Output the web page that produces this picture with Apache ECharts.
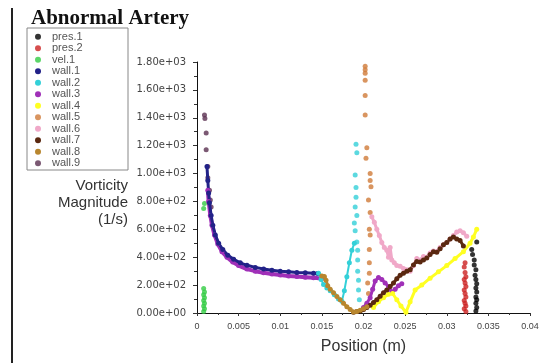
<!DOCTYPE html>
<html>
<head>
<meta charset="utf-8">
<script src="https://cdn.jsdelivr.net/npm/echarts@6/dist/echarts.min.js"></script>
<style>
  html, body { margin: 0; padding: 0; background: #fff; }
  #chart { width: 545px; height: 363px; }
</style>
</head>
<body>
<div id="chart"></div>
<script>
// legend order
const seriesNames = ['pres.1', 'pres.2', 'vel.1', 'wall.1', 'wall.2', 'wall.3',
  'wall.4', 'wall.5', 'wall.6', 'wall.7', 'wall.8', 'wall.9'];

const xTicks = [0, 0.005, 0.01, 0.015, 0.02, 0.025, 0.03, 0.035, 0.04];

// [position (m), vorticity magnitude (1/s)]
const pres1 = [[0.0335,15],[0.0336,40],[0.0335,70],[0.0336,95],[0.0335,115],[0.0336,150],
  [0.0335,180],[0.0336,210],[0.0335,240],[0.0334,270],[0.0335,310],[0.0333,345],
  [0.0333,380],[0.0331,420],[0.0330,455],[0.0336,510]];
const pres2 = [[0.0323,10],[0.0321,30],[0.0323,50],[0.0322,70],[0.0321,90],[0.0323,115],
  [0.0322,140],[0.0321,165],[0.0323,190],[0.0322,215],[0.0321,240],[0.0323,260],
  [0.0322,290],[0.0321,330],[0.0322,360]];
const vel1 = [[0.0008,10],[0.0009,30],[0.0008,50],[0.0009,70],[0.0008,90],[0.0009,110],
  [0.0008,130],[0.0009,150],[0.0008,175],[0.0008,750],[0.0009,785]];
const wall1 = [[0.0012,1050],[0.0013,950],[0.0014,860],[0.0015,790],[0.0017,700],[0.0019,630],
  [0.0022,560],[0.0026,500],[0.0031,455],[0.0037,415],[0.0044,385],[0.0052,360],
  [0.006,342],[0.007,327],[0.008,315],[0.009,307],[0.010,300],[0.011,295],
  [0.012,291],[0.013,288],[0.014,285],[0.0145,283]];
const wall2 = [[0.0146,285],[0.0149,240],[0.0152,205],[0.0156,180],[0.016,160],[0.0165,130],
  [0.017,100],[0.0174,85],[0.0177,160],[0.018,260],[0.0183,360],[0.0186,450],[0.0189,500]];
const wall2Dots = [[0.0191,1210],[0.0192,1150],[0.0190,990],[0.0191,900],[0.0191,830],
  [0.0190,760],[0.0192,700],[0.0189,645],[0.0190,590],[0.0192,510],[0.0193,450],
  [0.0193,380],[0.0193,300],[0.0194,235],[0.0194,165],[0.0195,95]];
const wall3 = [[0.0013,880],[0.0014,800],[0.0016,700],[0.0018,630],[0.0021,560],[0.0025,495],
  [0.003,440],[0.0036,400],[0.0043,365],[0.005,340],[0.006,315],[0.007,300],
  [0.008,288],[0.009,279],[0.010,272],[0.011,266],[0.012,261],[0.013,257],
  [0.014,253],[0.015,248]];
const wall3Right = [[0.0200,40],[0.0204,70],[0.0208,110],[0.0211,170],[0.0214,230],[0.0218,255],
  [0.0222,240],[0.0226,215],[0.023,190],[0.0234,150],[0.0238,170],[0.0242,195],[0.0246,210]];
const wall4 = [[0.0212,40],[0.0218,80],[0.0224,110],[0.023,135],[0.0235,140],[0.024,95],
  [0.0245,50],[0.0251,5],[0.0256,80],[0.0262,165],[0.027,200],[0.028,250],[0.029,295],
  [0.030,340],[0.031,390],[0.032,440],[0.0328,500],[0.0332,545],[0.0336,600]];
const wall5 = [[0.0202,1770],[0.0202,1745],[0.0202,1720],[0.0202,1670],[0.0202,1560],
  [0.0202,1420],[0.0204,1185],[0.0203,1110],[0.0208,1000],[0.0208,950],[0.0209,905],
  [0.0206,810],[0.0208,720],[0.0207,600],[0.0208,560],[0.0207,455],[0.0207,360],
  [0.0207,285],[0.0205,215],[0.0206,140],[0.0205,60]];
const wall6 = [[0.0210,690],[0.0213,650],[0.0216,600],[0.0219,555],[0.0222,505],[0.0225,470],
  [0.0228,450],[0.023,400],[0.0232,470],[0.0234,380],[0.0237,360],[0.024,340],
  [0.0244,335],[0.0248,320],[0.0252,310],[0.0256,300],[0.026,340],[0.0264,390],
  [0.0268,380],[0.0272,405],[0.0276,400],[0.028,430],[0.0284,445],[0.0288,440],
  [0.0292,470],[0.0296,490],[0.030,505],[0.0304,530],[0.0308,555],[0.0312,580],
  [0.0316,590],[0.032,575],[0.0324,550]];
const wall7 = [[0.0188,5],[0.0192,10],[0.0196,15],[0.020,25],[0.0204,40],[0.0208,55],
  [0.0212,75],[0.0216,95],[0.022,120],[0.0224,145],[0.0228,165],[0.0232,190],
  [0.0236,215],[0.024,245],[0.0244,270],[0.0248,285],[0.0252,300],[0.0256,310],
  [0.026,345],[0.0264,370],[0.0268,365],[0.0272,380],[0.0276,395],[0.028,420],
  [0.0284,440],[0.0288,435],[0.0292,460],[0.0296,490],[0.030,505],[0.0304,530],
  [0.0308,545],[0.0312,530],[0.0316,520],[0.032,480]];
const wall8 = [[0.0150,265],[0.0153,262],[0.0155,235],[0.0157,195],[0.016,170],[0.0164,145],
  [0.0168,118],[0.0172,95],[0.0176,70],[0.018,45],[0.0184,25],[0.0188,8],[0.0192,10],
  [0.0196,20],[0.020,30],[0.0204,45]];
const wall9 = [[0.0009,1420],[0.00095,1395],[0.0011,1290],[0.0011,1170],[0.0013,1050],
  [0.0013,970],[0.0015,880],[0.0016,810],[0.0017,760]];

const colors = {
  'pres.1': '#000000', 'pres.2': '#cc2222', 'vel.1': '#33cc44', 'wall.1': '#222288',
  'wall.2': '#33d0d8', 'wall.3': '#a030b8', 'wall.4': '#ffff22', 'wall.5': '#d07a38',
  'wall.6': '#f0a8c8', 'wall.7': '#5a2810', 'wall.8': '#b8862e', 'wall.9': '#5a3050'
};

function dots(name, data, size) {
  return {
    name: name, type: 'scatter', data: data, symbol: 'circle', symbolSize: size || 5,
    itemStyle: { color: colors[name] }
  };
}
function trail(name, data, width) {
  return {
    name: name, type: 'line', data: data, symbol: 'circle', symbolSize: 5,
    showSymbol: true,
    itemStyle: { color: colors[name] },
    lineStyle: { color: colors[name], width: width || 3 }
  };
}

// y labels look like 1.80e+03
function sci(v) {
  if (v === 0) return '0.00e+00';
  const e = Math.floor(Math.log10(v) + 1e-9);
  const m = v / Math.pow(10, e);
  return m.toFixed(2) + 'e+' + String(e).padStart(2, '0');
}

const chart = echarts.init(document.getElementById('chart'));

chart.setOption({
  animation: false,
  backgroundColor: '#fff',
  title: {
    text: 'Abnormal Artery',
    left: 26, top: 3,
    textStyle: { fontFamily: 'Liberation Serif', fontWeight: 'bold', fontSize: 21, color: '#111' }
  },
  legend: {
    data: seriesNames,
    orient: 'vertical',
    left: 30, top: 26,
    icon: 'circle',
    itemWidth: 6, itemHeight: 6, itemGap: 0,
    textStyle: { fontFamily: 'Liberation Sans', fontSize: 11, color: '#555', lineHeight: 11.5, padding: [0, 0, 0, 6] }
  },
  graphic: [
    { type: 'rect', shape: { x: 27, y: 28, width: 101, height: 142 },
      style: { fill: 'none', stroke: '#888', lineWidth: 1 }, z: 0 },
    { type: 'line', shape: { x1: 12, y1: 8, x2: 12, y2: 363 },
      style: { stroke: '#222', lineWidth: 2 } },
    { type: 'text', x: 128, y: 177,
      style: { text: 'Vorticity\nMagnitude\n(1/s)', align: 'right', lineHeight: 17,
        font: '15px "Liberation Sans"', fill: '#333' } }
  ],
  grid: { left: 197, right: 15, top: 62, bottom: 50 },
  xAxis: {
    type: 'value', min: 0, max: 0.04, interval: 0.005,
    name: 'Position (m)', nameLocation: 'middle', nameGap: 26,
    nameTextStyle: { fontFamily: 'Liberation Sans', fontSize: 16, color: '#333' },
    axisLine: { show: true, lineStyle: { color: '#111', width: 1 } },
    axisTick: { show: true, length: 3, lineStyle: { color: '#333' } },
    minorTick: { show: true, splitNumber: 2, length: 2, lineStyle: { color: '#333' } },
    splitLine: { show: false },
    axisLabel: {
      margin: 9, fontFamily: 'Liberation Sans', fontSize: 9, color: '#444',
      formatter: v => String(parseFloat(v.toFixed(4)))
    }
  },
  yAxis: {
    type: 'value', min: 0, max: 1800, interval: 200,
    axisLine: { show: true, lineStyle: { color: '#111', width: 1 } },
    axisTick: { show: true, length: 4, lineStyle: { color: '#333' } },
    minorTick: { show: true, splitNumber: 2, length: 3, lineStyle: { color: '#333' } },
    splitLine: { show: false },
    axisLabel: {
      margin: 11, fontFamily: 'DejaVu Sans', fontSize: 10, color: '#444',
      formatter: sci
    }
  },
  series: [
    dots('pres.1', pres1),
    dots('pres.2', pres2),
    dots('vel.1', vel1),
    trail('wall.3', wall3, 4),
    trail('wall.1', wall1, 3),
    trail('wall.2', wall2, 2),
    dots('wall.2', wall2Dots),
    trail('wall.3', wall3Right, 3),
    trail('wall.4', wall4, 3),
    dots('wall.5', wall5),
    trail('wall.6', wall6, 3),
    trail('wall.7', wall7, 3),
    trail('wall.8', wall8, 3),
    dots('wall.9', wall9, 5)
  ]
});
</script>
</body>
</html>
